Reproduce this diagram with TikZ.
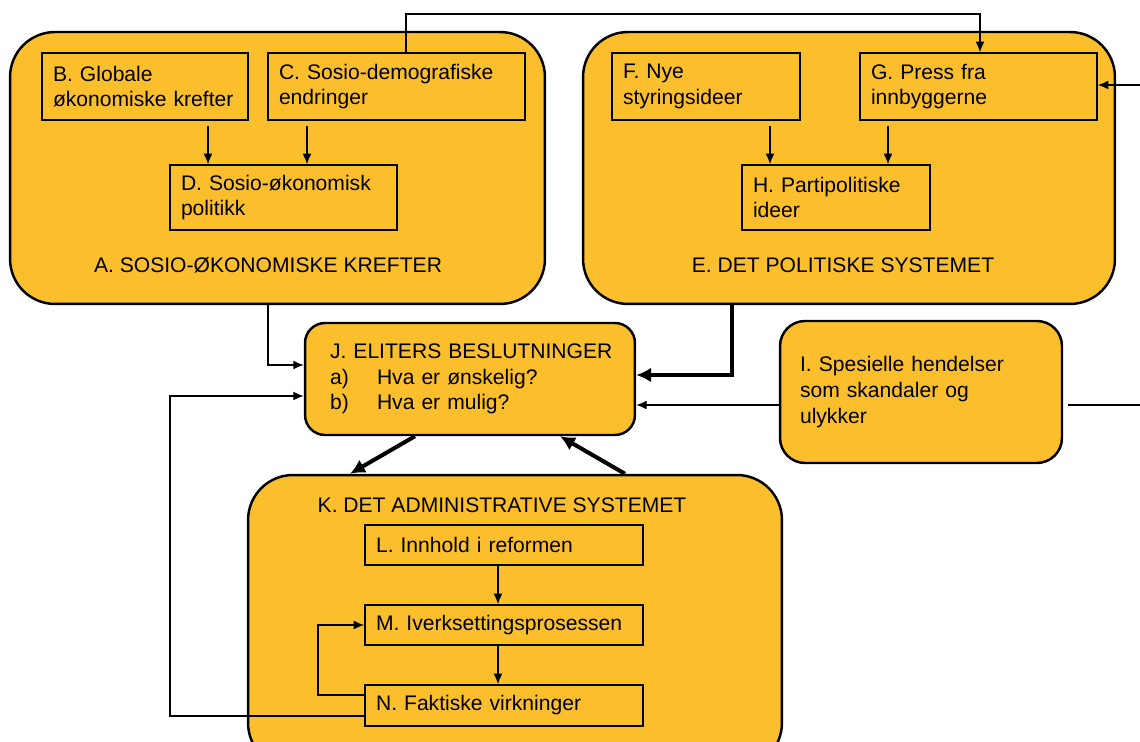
\documentclass[tikz,border=0pt]{standalone}
\usepackage{fontspec}
\setmainfont{Liberation Sans}
\usetikzlibrary{arrows.meta}
\definecolor{boxorange}{RGB}{251,191,45}
\begin{document}
\begin{tikzpicture}[x=0.02cm,y=-0.02cm,
  font=\fontsize{12}{14.7}\selectfont,
  group/.style={draw=black, line width=1.4pt, fill=boxorange, rounded corners=0.9cm, inner sep=0pt},
  innerbox/.style={draw=black, line width=0.85pt, fill=boxorange, align=left, inner xsep=0.22cm, inner ysep=0pt},
  arr/.style={line width=0.7pt, -{Latex[length=6pt,width=5pt]}},
  thickarr/.style={line width=2.3pt, -{Latex[length=8.5pt,width=8.5pt]}},
  plainline/.style={line width=0.7pt},
  lbl/.style={inner sep=0pt}]
\useasboundingbox (0,0) rectangle (1140,742);
\clip (0,0) rectangle (1140,742);
\fill[white] (0,0) rectangle (1140,742);

% group boxes
\node[group, minimum width=10.7cm, minimum height=5.44cm] (A) at (277.5,168) {};
\node[group, minimum width=10.64cm, minimum height=5.44cm] (E) at (849,168) {};
\node[group, minimum width=10.68cm, minimum height=5.86cm] (K) at (515,621.5) {};
\node[group, rounded corners=0.4cm, minimum width=6.6cm, minimum height=2.24cm, align=left, text width=5.6cm, inner xsep=0.5cm] (J) at (470,379)
  {\mbox{J. ELITERS BESLUTNINGER}\\
   \makebox[0.94cm][l]{a)}Hva er ønskelig?\\
   \makebox[0.94cm][l]{b)}Hva er mulig?};
\node[group, rounded corners=0.5cm, minimum width=5.64cm, minimum height=2.84cm, align=left, text width=4.84cm, inner xsep=0.4cm] (I) at (921,392)
  {I. Spesielle hendelser\\som skandaler og\\ulykker};

% group labels
\node[lbl] (Alab) at (268,265) {A. SOSIO-ØKONOMISKE KREFTER};
\node[lbl] (Elab) at (843,265) {E. DET POLITISKE SYSTEMET};
\node[lbl] (Klab) at (502,505) {K. DET ADMINISTRATIVE SYSTEMET};

% inner boxes
\node[innerbox, text width=3.68cm, minimum height=1.34cm] (B) at (145,86.5) {B. Globale\\\mbox{økonomiske krefter}};
\node[innerbox, text width=4.70cm, minimum height=1.34cm] (C) at (396.5,86.5) {\mbox{C. Sosio-demografiske}\\endringer};
\node[innerbox, text width=4.10cm, minimum height=1.30cm] (D) at (283.5,197.5) {\mbox{D. Sosio-økonomisk}\\politikk};
\node[innerbox, text width=3.32cm, minimum height=1.34cm] (F) at (706,86.5) {F. Nye\\styringsideer};
\node[innerbox, text width=4.30cm, minimum height=1.34cm] (G) at (978.5,86.5) {G. Press fra\\innbyggerne};
\node[innerbox, text width=3.32cm, minimum height=1.30cm] (H) at (836,197.5) {\mbox{H. Partipolitiske}\\ideer};
\node[innerbox, text width=5.12cm, minimum height=0.8cm] (L) at (504,545) {L. Innhold i reformen};
\node[innerbox, text width=5.12cm, minimum height=0.8cm] (M) at (504,625) {\mbox{M. Iverksettingsprosessen}};
\node[innerbox, text width=5.12cm, minimum height=0.82cm] (N) at (504,705.5) {N. Faktiske virkninger};

% arrows inside groups
\draw[arr, shorten <=0.1cm] (208,0 |- B.south) -- (208,0 |- D.north);
\draw[arr, shorten <=0.1cm] (307,0 |- C.south) -- (307,0 |- D.north);
\draw[arr, shorten <=0.1cm] (770,0 |- F.south) -- (770,0 |- H.north);
\draw[arr, shorten <=0.1cm] (888,0 |- G.south) -- (888,0 |- H.north);
\draw[arr] (498,0 |- L.south) -- (498,0 |- M.north);
\draw[arr] (498,0 |- M.south) -- (498,0 |- N.north);

% top connector C -> G
\coordinate (topC) at (406,14);
\draw[arr] (406,0 |- C.north) -- (topC) -| (980,0 |- G.north);

% right edge connectors
\coordinate (rG) at (1140,85);
\coordinate (rI) at (1140,405);
\draw[arr] (rG) -- (G.east |- rG);
\draw[plainline, shorten <=0.1cm] (I.east |- rI) -- (rI);

% into J
\coordinate (jI) at (0,405);
\draw[arr] (I.west |- jI) -- (J.east |- jI);
\coordinate (jE) at (0,375);
\draw[thickarr] (732,0 |- E.south) |- (J.east |- jE);
\coordinate (jA) at (0,365);
\draw[arr] (268,0 |- A.south) |- (J.west |- jA);
\coordinate (jN) at (0,396);
\coordinate (nLow) at (0,716);
\draw[arr] (N.west |- nLow) -| (170,0 |- jN) -- (J.west |- jN);

% N -> M loop
\coordinate (nHigh) at (0,695);
\draw[arr] (N.west |- nHigh) -| (318,0 |- M.west) -- (M.west);

% J <-> K thick arrows
\draw[thickarr] (415,0 |- J.south) -- (350,0 |- K.north);
\draw[thickarr] (625,0 |- K.north) -- (560,0 |- J.south);
\end{tikzpicture}
\end{document}
